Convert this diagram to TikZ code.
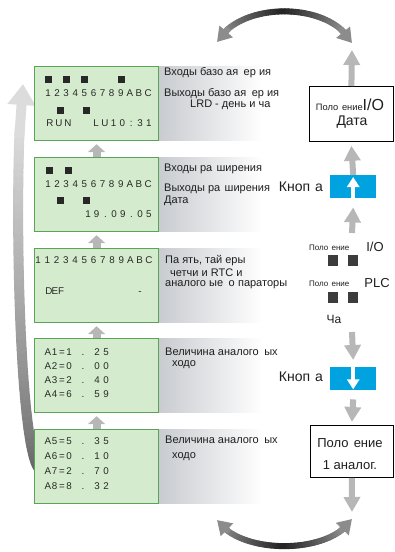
\documentclass[tikz,border=0pt]{standalone}
\usepackage{fontspec}
\setmainfont{Liberation Sans}
\usetikzlibrary{arrows.meta}
\definecolor{lcdfill}{RGB}{212,235,205}
\definecolor{lcdline}{RGB}{90,165,85}
\definecolor{lcdtext}{RGB}{40,40,40}
\definecolor{panelgray}{RGB}{200,203,207}
\definecolor{flowgray}{RGB}{183,183,183}
\definecolor{btnblue}{RGB}{0,163,224}
\definecolor{sqdark}{RGB}{60,60,60}
\definecolor{leftdark}{RGB}{90,90,90}
\definecolor{leftlight}{RGB}{220,220,220}
\definecolor{arcend}{RGB}{140,140,140}
\definecolor{arcmid}{RGB}{35,35,35}
\definecolor{txt}{RGB}{30,30,30}
\newcommand\lcdrowX[3]{\foreach \c/\x [count=\i] in {#3} {\node[lcdch] (#1-\i) at (\x,#2) {\c};}}
\begin{document}
\begin{tikzpicture}[x=1pt,y=-1pt,
  lcd/.style={draw=lcdline, line width=1.2pt, fill=lcdfill, minimum width=124pt, minimum height=74pt, anchor=north west, inner sep=0pt},
  lcdch/.style={inner sep=0pt, anchor=base, text=lcdtext, font=\fontsize{9.8}{10}\selectfont},
  lcdsq/.style={fill=lcdtext, minimum size=7pt, inner sep=0pt},
  desc/.style={anchor=west, inner sep=0pt, text=txt, font=\fontsize{11}{12}\selectfont},
  flowarrow/.style={draw=flowgray, line width=6pt, -{Triangle[width=16pt,length=15pt]}},
  lcdarrow/.style={draw=flowgray, line width=8pt, -{Triangle[width=17pt,length=8pt]}},
  rbox/.style={draw=black, line width=0.8pt, fill=white, anchor=north west, inner sep=0pt},
  btn/.style={fill=btnblue, minimum width=46pt, minimum height=23pt, anchor=north west, inner sep=0pt},
  btnarrow/.style={draw=white, line width=4pt, -{Triangle[width=12pt,length=10pt]}},
  sq/.style={fill=sqdark, minimum width=10pt, minimum height=11pt, inner sep=0pt},
  big/.style={inner sep=0pt, text=txt, font=\fontsize{14}{16}\selectfont},
  mid/.style={inner sep=0pt, text=txt, font=\fontsize{13}{15}\selectfont},
  small/.style={inner sep=0pt, text=txt, font=\fontsize{8}{10}\selectfont},
]
\useasboundingbox (0,0) rectangle (395,552);

% gradient panels
\foreach \yt in {66,157,248,338,429}{
  \shade[left color=panelgray, right color=white] (158,\yt) rectangle (262,\yt+74);
}

% left big curved arrow (cubic Bezier evaluated explicitly)
\def\Lxa{42}\def\Lya{470}
\def\Lxb{18}\def\Lyb{472}
\def\Lxc{13}\def\Lyc{160}
\def\Lxd{23}\def\Lyd{84}
\foreach \i in {0,...,59}{
  \pgfmathsetmacro\ua{\i/60*0.86}
  \pgfmathsetmacro\ub{(\i+1)/60*0.86}
  \pgfmathsetmacro\xa{(1-\ua)^3*\Lxa+3*(1-\ua)^2*\ua*\Lxb+3*(1-\ua)*\ua^2*\Lxc+\ua^3*\Lxd}
  \pgfmathsetmacro\ya{(1-\ua)^3*\Lya+3*(1-\ua)^2*\ua*\Lyb+3*(1-\ua)*\ua^2*\Lyc+\ua^3*\Lyd}
  \pgfmathsetmacro\xb{(1-\ub)^3*\Lxa+3*(1-\ub)^2*\ub*\Lxb+3*(1-\ub)*\ub^2*\Lxc+\ub^3*\Lxd}
  \pgfmathsetmacro\yb{(1-\ub)^3*\Lya+3*(1-\ub)^2*\ub*\Lyb+3*(1-\ub)*\ub^2*\Lyc+\ub^3*\Lyd}
  \pgfmathtruncatemacro\pc{\i*100/59}
  \draw[line width=10pt, line cap=round, draw=leftlight!\pc!leftdark] (\xa,\ya) -- (\xb,\yb);
}
\pgfmathsetmacro\uh{0.84}
\pgfmathsetmacro\xh{(1-\uh)^3*\Lxa+3*(1-\uh)^2*\uh*\Lxb+3*(1-\uh)*\uh^2*\Lxc+\uh^3*\Lxd}
\pgfmathsetmacro\yh{(1-\uh)^3*\Lya+3*(1-\uh)^2*\uh*\Lyb+3*(1-\uh)*\uh^2*\Lyc+\uh^3*\Lyd}
\coordinate (lhead) at (\xh,\yh);
\coordinate (ltip) at (\Lxd,\Lyd);
\draw[line width=10pt, draw=leftlight, -{Triangle[width=27pt,length=21pt]}] (lhead) -- (ltip);

% LCD boxes
\node[lcd] (lcd1) at (34,66) {};
\node[lcd] (lcd2) at (34,157) {};
\node[lcd] (lcd3) at (34,248) {};
\node[lcd] (lcd4) at (34,338) {};
\node[lcd] (lcd5) at (34,429) {};

% arrows between LCD boxes
\draw[lcdarrow] (lcd2.north) -- ([yshift=-3pt]lcd1.south);
\draw[lcdarrow] (lcd3.north) -- ([yshift=-3pt]lcd2.south);
\draw[lcdarrow] (lcd4.north) -- ([yshift=-3pt]lcd3.south);
\draw[lcdarrow] (lcd5.north) -- ([yshift=-3pt]lcd4.south);

% LCD 1
\foreach \x [count=\i] in {48,66,84,121} {\node[lcdsq] (s1a\i) at (\x,79) {};}
\lcdrowX{d1}{96.5}{1/48,2/57.1,3/66.2,4/75.3,5/84.4,6/93.5,7/102.6,8/111.7,9/120.8,A/129.9,B/139,C/148.1}
\foreach \x [count=\i] in {60,86} {\node[lcdsq] (s1b\i) at (\x,110) {};}
\lcdrowX{r1}{126.5}{R/50,U/59,N/68,L/96,U/104.8,1/113.6,0/122.4,:/131.2,3/140,1/148.8}

% LCD 2
\foreach \x [count=\i] in {49,68} {\node[lcdsq] (s2a\i) at (\x,170) {};}
\lcdrowX{d2}{187.5}{1/48,2/57.1,3/66.2,4/75.3,5/84.4,6/93.5,7/102.6,8/111.7,9/120.8,A/129.9,B/139,C/148.1}
\foreach \x [count=\i] in {60,86} {\node[lcdsq] (s2b\i) at (\x,200) {};}
\lcdrowX{r2}{217.5}{1/88,9/96.7,./105.4,0/114.1,9/122.8,./131.5,0/140.2,5/148.9}

% LCD 3
\lcdrowX{d3}{263.5}{1/38,1/47.25,2/56.5,3/65.75,4/75,5/84.25,6/93.5,7/102.75,8/112,9/121.25,A/130.5,B/139.75,C/149}
\lcdrowX{r3}{294.5}{D/49,E/55,F/61,-/140}

% LCD 4
\lcdrowX{a1}{355}{A/48,1/54.5,=/62,1/69,./83,2/97,5/106}
\lcdrowX{a2}{369}{A/48,2/54.5,=/62,0/69,./83,0/97,0/106}
\lcdrowX{a3}{383}{A/48,3/54.5,=/62,2/69,./83,4/97,0/106}
\lcdrowX{a4}{397}{A/48,4/54.5,=/62,6/69,./83,5/97,9/106}

% LCD 5
\lcdrowX{a5}{444.5}{A/48,5/54.5,=/62,5/69,./83,3/97,5/106}
\lcdrowX{a6}{459.5}{A/48,6/54.5,=/62,0/69,./83,1/97,0/106}
\lcdrowX{a7}{474.5}{A/48,7/54.5,=/62,2/69,./83,7/97,0/106}
\lcdrowX{a8}{489.5}{A/48,8/54.5,=/62,8/69,./83,3/97,2/106}

% descriptions
\node[desc] (t1a) at (164,73) {Входы базо ая\hspace{0.5em}ер ия};
\node[desc] (t1b) at (164,94) {Выходы базо ая\hspace{0.5em}ер ия};
\node[desc] (t1c) at (190,105) {LRD - день и ча};
\node[desc] (t2a) at (164,169) {Входы ра\hspace{0.4em}ширения};
\node[desc] (t2b) at (164,189) {Выходы ра\hspace{0.4em}ширения};
\node[desc] (t2c) at (164,201) {Дата};
\node[desc] (t3a) at (165,261) {Па ять, тай еры};
\node[desc] (t3b) at (170,273) {четчи и RTC и};
\node[desc] (t3c) at (165,285) {аналого ые\hspace{0.5em}о\hspace{0.3em}параторы};
\node[desc] (t4a) at (165,352) {Величина аналого\hspace{0.5em}ых};
\node[desc] (t4b) at (172,365) {ходо};
\node[desc] (t5a) at (165,440) {Величина аналого\hspace{0.5em}ых};
\node[desc] (t5b) at (172,457) {ходо};

% right column
\node[rbox, minimum width=84pt, minimum height=55pt] (rb1) at (309,86) {};
\node[inner sep=0pt, text=txt] (rb1a) at (350,105) {{\fontsize{9.3}{10}\selectfont Поло\hspace{0.4em}ение}{\fontsize{16}{18}\selectfont I/O}};
\node[big] (rb1b) at (352,122) {Дата};

\coordinate (topA) at (352,50);
\draw[flowarrow] (rb1.north) -- (topA);

\node[btn] (btnup) at (330,175) {};
\draw[btnarrow] (btnup.south) -- ([yshift=-2pt]btnup.north);
\node[big, anchor=east] (kup) at (323,187) {Кноп\hspace{0.35em}а};
\draw[flowarrow] (btnup.north) -- ([yshift=-4pt]rb1.south);

\coordinate (a3s) at (352,233);
\draw[flowarrow] (a3s) -- ([yshift=-9pt]btnup.south);

\node[small, anchor=west] (pio) at (309,248) {Поло\hspace{0.4em}ение};
\node[big, font=\fontsize{13}{15}\selectfont] (pio2) at (375,247) {I/O};
\node[sq, anchor=north west] (sq1) at (328,255) {};
\node[sq, anchor=north west] (sq2) at (348,255) {};
\node[small, anchor=west] (pplc) at (309,284) {Поло\hspace{0.4em}ение};
\node[big, font=\fontsize{13}{15}\selectfont] (pplc2) at (377,283) {PLC};
\node[sq, anchor=north west] (sq3) at (328,292) {};
\node[sq, anchor=north west] (sq4) at (348,292) {};
\node[mid, font=\fontsize{12}{14}\selectfont] (cha) at (334,319) {Ча};

\coordinate (a4s) at (352,332);
\node[btn] (btndn) at (330,367) {};
\draw[flowarrow] (a4s) -- ([yshift=7pt]btndn.north);
\draw[btnarrow] (btndn.north) -- ([yshift=1pt]btndn.south);
\node[big, anchor=east] (kdn) at (323,377) {Кноп\hspace{0.35em}а};

\node[rbox, minimum width=83pt, minimum height=52pt] (rb2) at (310,425) {};
\node[mid] (rb2a) at (350,443) {Поло\hspace{0.4em}ение};
\node[mid] (rb2b) at (350,465) {1 аналог.};
\draw[flowarrow] ([yshift=-9pt]btndn.south) -- ([yshift=3pt]rb2.north);
\coordinate (botA) at (352,512);
\draw[flowarrow] (rb2.south) -- (botA);

% top arc
\coordinate (T0) at (217,42);
\coordinate (T1) at (240,1);
\coordinate (T2) at (330,1);
\coordinate (T3) at (352,43);
\foreach \i in {0,...,39}{
  \pgfmathsetmacro\ta{0.1+\i/40*0.8}
  \pgfmathsetmacro\tb{0.1+(\i+1)/40*0.8}
  \pgfmathtruncatemacro\p{min(100,abs((\ta+\tb)/2-0.5)*250)}
  \path (T0) .. controls (T1) and (T2) .. (T3) coordinate[pos=\ta] (ta) coordinate[pos=\tb] (tb);
  \draw[line width=6pt, line cap=round, draw=arcend!\p!arcmid] (ta) -- (tb);
}
\path (T0) .. controls (T1) and (T2) .. (T3) coordinate[pos=0.13] (th1) coordinate[pos=0.87] (th2);
\draw[line width=6pt, draw=arcend, -{Triangle[width=17pt,length=14pt]}] (th1) -- (T0);
\draw[line width=6pt, draw=arcend, -{Triangle[width=17pt,length=14pt]}] (th2) -- (T3);

% bottom arc
\coordinate (B0) at (217,520);
\coordinate (B1) at (240,555);
\coordinate (B2) at (330,555);
\coordinate (B3) at (352,519);
\foreach \i in {0,...,39}{
  \pgfmathsetmacro\ta{0.1+\i/40*0.8}
  \pgfmathsetmacro\tb{0.1+(\i+1)/40*0.8}
  \pgfmathtruncatemacro\p{min(100,abs((\ta+\tb)/2-0.5)*250)}
  \path (B0) .. controls (B1) and (B2) .. (B3) coordinate[pos=\ta] (ba) coordinate[pos=\tb] (bb);
  \draw[line width=6pt, line cap=round, draw=arcend!\p!arcmid] (ba) -- (bb);
}
\path (B0) .. controls (B1) and (B2) .. (B3) coordinate[pos=0.13] (bh1) coordinate[pos=0.87] (bh2);
\draw[line width=6pt, draw=arcend, -{Triangle[width=17pt,length=14pt]}] (bh1) -- (B0);
\draw[line width=6pt, draw=arcend, -{Triangle[width=17pt,length=14pt]}] (bh2) -- (B3);
\end{tikzpicture}
\end{document}
